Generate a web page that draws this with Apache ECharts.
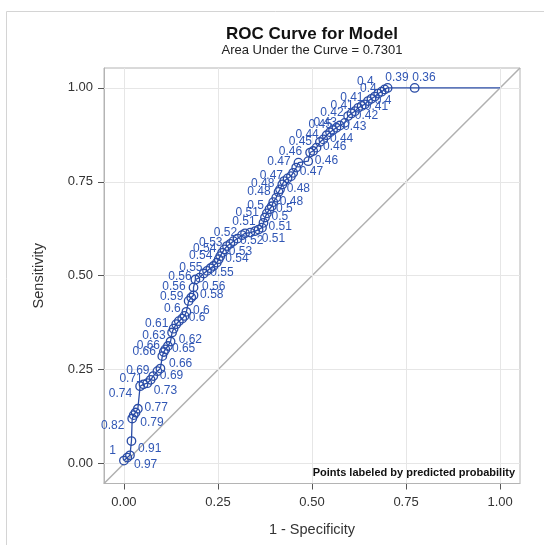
<!DOCTYPE html>
<html><head><meta charset="utf-8">
<script src="https://cdn.jsdelivr.net/npm/echarts@6/dist/echarts.min.js"></script>
<style>html,body{margin:0;padding:0;background:#fff}#c{width:544px;height:545px}</style>
</head><body><div id="c"></div>
<script>
// ---- data ----
const fpr = [0.000,0.009,0.016,0.020,0.022,0.026,0.031,0.037,0.043,0.052,0.062,0.071,0.078,0.089,0.097,0.102,0.106,0.110,0.117,0.124,
0.128,0.132,0.139,0.146,0.155,0.161,0.166,0.172,0.179,0.185,0.185,0.190,0.201,0.212,0.221,0.230,0.238,0.247,0.252,0.256,
0.261,0.267,0.274,0.283,0.291,0.302,0.314,0.322,0.336,0.349,0.358,0.367,0.371,0.375,0.380,0.387,0.393,0.397,0.405,0.411,
0.415,0.421,0.426,0.435,0.444,0.450,0.458,0.464,0.490,0.495,0.503,0.512,0.521,0.530,0.539,0.548,0.556,0.565,0.574,0.587,
0.596,0.605,0.614,0.623,0.632,0.640,0.649,0.658,0.667,0.676,0.685,0.693,0.701,0.773,1.000];
const tpr = [0.008,0.016,0.022,0.060,0.120,0.129,0.136,0.146,0.206,0.211,0.214,0.223,0.233,0.246,0.253,0.286,0.297,0.304,0.313,0.325,
0.349,0.359,0.371,0.379,0.386,0.393,0.404,0.433,0.442,0.448,0.469,0.490,0.495,0.506,0.513,0.520,0.526,0.535,0.544,0.552,
0.561,0.570,0.579,0.585,0.592,0.599,0.608,0.613,0.615,0.619,0.623,0.628,0.641,0.655,0.666,0.677,0.685,0.696,0.708,0.723,
0.730,0.743,0.752,0.759,0.765,0.774,0.788,0.801,0.805,0.828,0.832,0.841,0.856,0.863,0.874,0.882,0.888,0.894,0.900,0.907,
0.925,0.932,0.938,0.947,0.952,0.956,0.965,0.971,0.977,0.985,0.990,0.996,1.000,1.000,1.000];
const probLabels = ['1','0.97','','0.91','0.82','0.79','','0.77','0.74','','0.73','0.71','0.69','0.69','','0.66','0.66','0.65','0.66','',
'0.62','0.63','0.61','','0.6','','0.6','0.6','0.59','0.58','0.56','0.56','0.56','0.55','','0.55','','','0.54','0.54',
'0.53','0.54','','0.53','0.52','','','0.52','','0.51','','0.51','0.51','0.5','0.51','0.5','0.5','0.48','','0.48',
'0.48','0.48','','','0.47','0.47','','0.47','0.46','0.46','','0.46','0.45','0.44','0.44','','','0.43','0.45','0.43',
'0.42','0.42','','0.41','0.41','','0.4','0.41','','','0.4','0.4','0.39','0.36',''];
const xTicks = [0, 0.25, 0.5, 0.75, 1];
const yTicks = [0, 0.25, 0.5, 0.75, 1];
const titleText = 'ROC Curve for Model';
const subtitleText = 'Area Under the Curve = 0.7301';
const xName = '1 - Specificity';
const yName = 'Sensitivity';
const noteText = 'Points labeled by predicted probability';

// ---- label placement (layout only): L/R = left/right, B = shifted down, U = shifted up, T = top ----
const labelSide = ['LU','RB','','RB','LB','RB','','R','LB','','RB','L','R','L','','RB','L','R','L','',
'RB','LB','L','','R','','R','LB','L','R','L','RB','L','R','','L','','','R','L',
'R','L','','L','R','','','L','','RB','','R','L','R','L','R','L','R','','L',
'R','L','','','L','R','','L','R','L','','R','L','R','L','','','R','L','L',
'R','L','','R','L','','R','L','','','LU','L','T','T',''];

const LINE = '#2a4ca6', LAB = '#3157b5', FONT = 'Arial, "Liberation Sans", sans-serif';
const lo = -0.053, hi = 1.053;
const SYM = 8.5, C = SYM / 2;

const pts = fpr.map((x, i) => {
  const item = { value: [x, tpr[i]] };
  if (i === fpr.length - 1) item.symbol = 'none';
  const t = probLabels[i];
  if (t) {
    const s = labelSide[i] || 'R';
    const dy = s[1] === 'B' ? 8 : (s[1] === 'U' ? -9 : 0);
    const lab = { show: true, formatter: t, color: LAB, fontSize: 12, fontFamily: FONT, verticalAlign: 'middle' };
    if (s[0] === 'L') { lab.position = [C - C - 3, C + dy]; lab.align = 'right'; }
    else if (s[0] === 'R') { lab.position = [C + C + 3, C + dy]; lab.align = 'left'; }
    else { lab.position = [C + 10, C - 9.5]; lab.align = 'center'; }
    item.label = lab;
  }
  return item;
});

const chart = echarts.init(document.getElementById('c'), null, { renderer: 'canvas' });
chart.setOption({
  animation: false,
  backgroundColor: '#fff',
  grid: { left: 104, right: 24, top: 68, bottom: 61.5, show: true, borderColor: '#b4b4b4', borderWidth: 1, containLabel: false },
  xAxis: {
    type: 'value', min: lo, max: hi,
    axisLine: { show: true, onZero: false, lineStyle: { color: '#b4b4b4' } },
    axisTick: { show: true, customValues: xTicks, length: 6, lineStyle: { color: '#555' } },
    axisLabel: { customValues: xTicks, formatter: v => v.toFixed(2), color: '#333', fontSize: 13, fontFamily: FONT, margin: 12 },
    splitLine: { show: false },
    name: xName, nameLocation: 'middle', nameGap: 39, nameTextStyle: { color: '#333', fontSize: 14.5, fontFamily: FONT }
  },
  yAxis: {
    type: 'value', min: lo, max: hi,
    axisLine: { show: true, onZero: false, lineStyle: { color: '#b4b4b4' } },
    axisTick: { show: true, customValues: yTicks, length: 6, lineStyle: { color: '#555' } },
    axisLabel: { customValues: yTicks, formatter: v => v.toFixed(2), color: '#333', fontSize: 13, fontFamily: FONT, margin: 11 },
    splitLine: { show: false },
    name: yName, nameLocation: 'middle', nameGap: 58, nameTextStyle: { color: '#333', fontSize: 14.5, fontFamily: FONT }
  },
  graphic: [
    { type: 'rect', shape: { x: 6.5, y: 11.5, width: 700, height: 700 }, style: { fill: 'none', stroke: '#d4d4d4', lineWidth: 1 }, z: -10 },
    { type: 'text', x: 312, y: 34, style: { text: titleText, font: 'bold 17px ' + FONT, fill: '#111', align: 'center', verticalAlign: 'middle' } },
    { type: 'text', x: 312, y: 50, style: { text: subtitleText, font: '13px ' + FONT, fill: '#222', align: 'center', verticalAlign: 'middle' } },
    { type: 'text', x: 515, y: 473, style: { text: noteText, font: 'bold 11px ' + FONT, fill: '#111', align: 'right', verticalAlign: 'middle' }, z: 100 }
  ],
  series: [
    {
      type: 'line', z: 1, silent: true, symbol: 'none', data: [],
      markLine: {
        silent: true, symbol: 'none', label: { show: false },
        lineStyle: { color: '#e6e6e6', width: 1, type: 'solid' },
        data: xTicks.map(v => ({ xAxis: v })).concat(yTicks.map(v => ({ yAxis: v })))
      }
    },
    {
      type: 'line', z: 2, silent: true, symbol: 'none',
      lineStyle: { color: '#b0b0b0', width: 1.5 },
      data: [[lo, lo], [hi, hi]]
    },
    {
      type: 'line', z: 5, symbol: 'circle', symbolSize: SYM,
      itemStyle: { color: 'rgba(255,255,255,0)', borderColor: LINE, borderWidth: 1.3 },
      lineStyle: { color: LINE, width: 1.3 },
      labelLayout: { hideOverlap: false },
      data: pts
    }
  ]
});
</script></body></html>
